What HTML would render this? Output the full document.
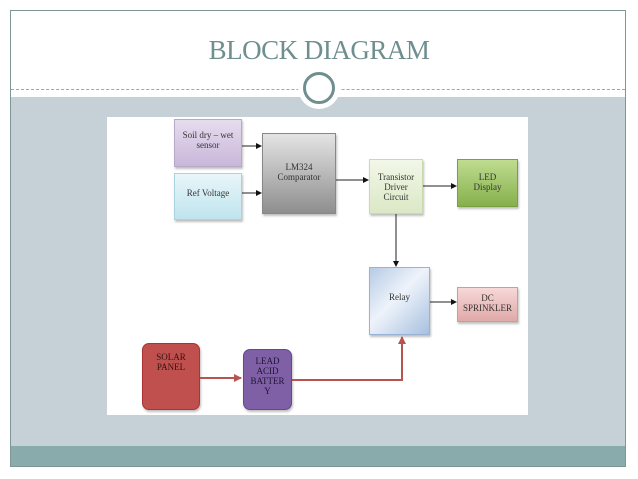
<!DOCTYPE html>
<html><head><style>
body{margin:0;width:638px;height:479px;background:#fff;position:relative;overflow:hidden;font-family:"Liberation Serif",serif}
.a{position:absolute}
.box{position:absolute;box-sizing:border-box;display:flex;justify-content:center;text-align:center;font-size:9px;line-height:10px;color:#333;box-shadow:1px 2px 2px rgba(0,0,0,.25)}
</style></head><body>
<div class="a" style="left:10px;top:10px;width:616px;height:457px;border:1px solid #7e9696;box-sizing:border-box"></div>
<div class="a" style="left:11px;top:97px;width:614px;height:349px;background:#c5d1d7"></div>
<div class="a" style="left:11px;top:446px;width:614px;height:20px;background:#8aabab"></div>
<div class="a" style="left:11px;top:89px;width:614px;border-top:1px dashed #9aa"></div>
<div class="a" style="left:0;top:35px;width:638px;text-align:center;font-size:27px;color:#6f8f8f;letter-spacing:-0.5px">BLOCK DIAGRAM</div>
<div class="a" style="left:298px;top:67px;width:42px;height:42px;border-radius:50%;background:#fff"></div>
<div class="a" style="left:303px;top:72px;width:32px;height:32px;border-radius:50%;border:3px solid #6f8f8f;box-sizing:border-box;background:#fff"></div>
<div class="a" style="left:107px;top:117px;width:421px;height:298px;background:#fff"></div>

<div class="box" style="left:174px;top:119px;width:68px;height:48px;background:linear-gradient(#e6dcee,#c9b7da);border:1px solid #b9a9c9;padding-top:10px">Soil dry – wet sensor</div>
<div class="box" style="left:174px;top:173px;width:68px;height:47px;background:linear-gradient(#e8f6f9,#bfe4ee);border:1px solid #a9d3df;padding-top:14px">Ref Voltage</div>
<div class="box" style="left:262px;top:133px;width:74px;height:81px;background:linear-gradient(#e4e4e4,#8e8e8e);border:1px solid #888;padding-top:28px">LM324<br>Comparator</div>
<div class="box" style="left:369px;top:159px;width:54px;height:55px;background:linear-gradient(#f2f7e8,#dbe8c6);border:1px solid #c9d9b0;padding-top:12px">Transistor<br>Driver<br>Circuit</div>
<div class="box" style="left:457px;top:159px;width:61px;height:48px;background:linear-gradient(#bfdc90,#86b04c);border:1px solid #7aa042;padding-top:12px">LED<br>Display</div>
<div class="box" style="left:369px;top:267px;width:61px;height:68px;background:linear-gradient(135deg,#b6cbe6,#eef3fa 45%,#a7c0e0);border:1px solid #99b3d5;padding-top:24px">Relay</div>
<div class="box" style="left:457px;top:287px;width:61px;height:35px;background:linear-gradient(#f7d8d8,#e0a9a8);border:1px solid #d49a99;padding-top:5px">DC<br>SPRINKLER</div>
<div class="box" style="left:142px;top:343px;width:58px;height:67px;background:#c0504d;border-radius:7px;border:1px solid #a33;padding-top:8px;color:#311">SOLAR<br>PANEL</div>
<div class="box" style="left:243px;top:349px;width:49px;height:61px;background:#7f60a6;border-radius:7px;border:1px solid #64488a;padding-top:6px;color:#1e1430">LEAD<br>ACID<br>BATTER<br>Y</div>

<svg class="a" style="left:0;top:0" width="638" height="479">
<defs><marker id="k" markerUnits="userSpaceOnUse" markerWidth="6" markerHeight="6" refX="5" refY="3" orient="auto"><path d="M0,0L6,3L0,6z" fill="#111"/></marker>
<marker id="r" markerUnits="userSpaceOnUse" markerWidth="8" markerHeight="8" refX="7" refY="4" orient="auto"><path d="M0,0L8,4L0,8z" fill="#b85450"/></marker></defs>
<g stroke="#222" stroke-width="1" fill="none">
<path d="M242,146H261" marker-end="url(#k)"/>
<path d="M242,193H261" marker-end="url(#k)"/>
<path d="M336,180H368" marker-end="url(#k)"/>
<path d="M423,186H456" marker-end="url(#k)"/>
<path d="M396,214V266" marker-end="url(#k)"/>
<path d="M430,302H456" marker-end="url(#k)"/>
</g>
<g stroke="#b85450" stroke-width="2" fill="none">
<path d="M200,378H241" marker-end="url(#r)"/>
<path d="M292,380H402V337" marker-end="url(#r)"/>
</g>
</svg>
</body></html>
